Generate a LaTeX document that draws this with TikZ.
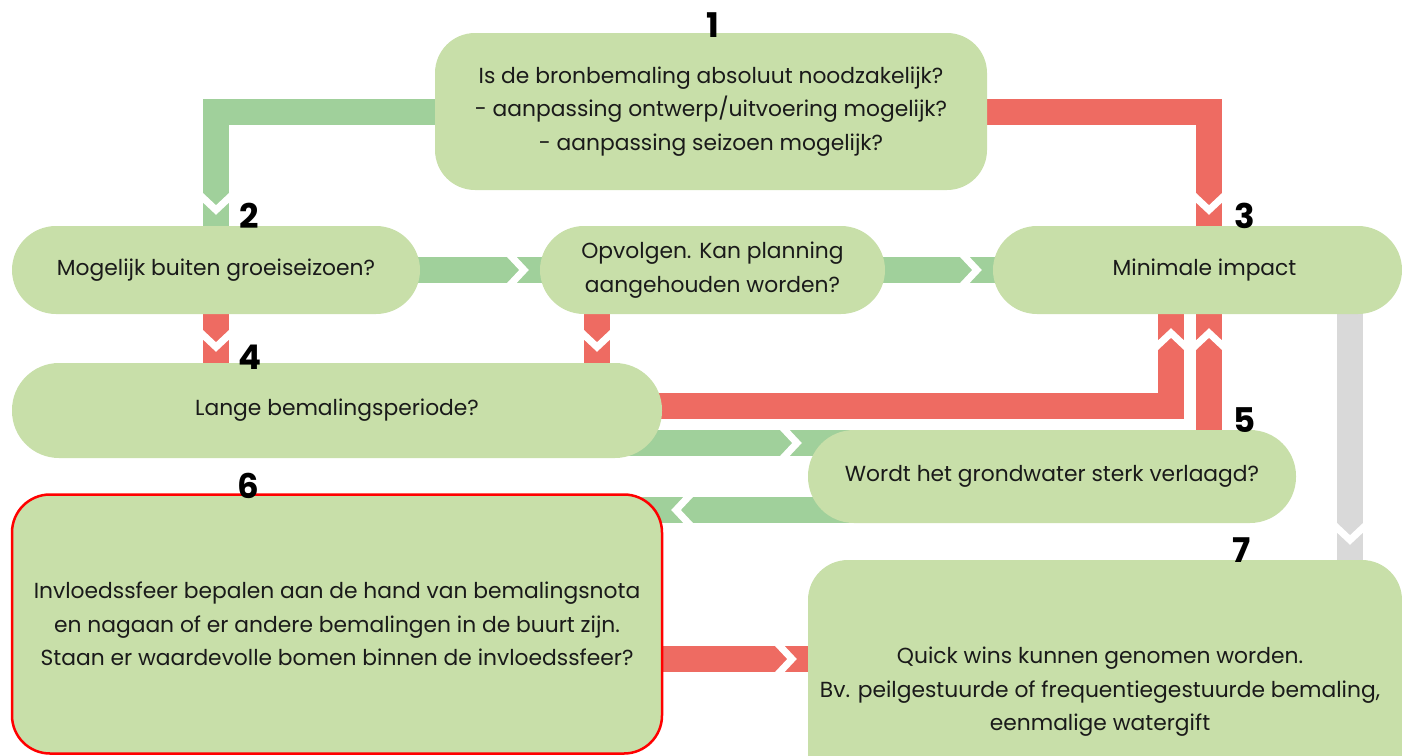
\documentclass[tikz,border=0pt]{standalone}
\usepackage{fontspec}
\setmainfont{Poppins}
\usetikzlibrary{backgrounds}
\definecolor{boxg}{HTML}{C8DFA9}
\definecolor{arrg}{HTML}{A0D09B}
\definecolor{arrr}{HTML}{EE6B62}
\definecolor{arrgray}{HTML}{D9D9D9}
\definecolor{txt}{HTML}{1A1A1A}
\begin{document}
\begin{tikzpicture}[x=1pt,y=-1pt,
  box/.style={fill=boxg, rounded corners=#1, inner sep=0pt, align=center, text=txt,
    font=\fontsize{21.8}{33.5}\selectfont},
  num/.style={font=\fontsize{34}{34}\selectfont\bfseries, text=black, inner sep=0pt},
  gband/.style={draw=arrg, line width=26pt},
  rband/.style={draw=arrr, line width=26pt},
  yband/.style={draw=arrgray, line width=26pt},
  chev/.pic={\draw[white, line width=7pt] (-15,-16) -- (0,0) -- (-15,16);}
]
\useasboundingbox (0,0) rectangle (1402,755);
\clip (0,0) rectangle (1402,755);

% boxes
\node[box=40, minimum width=552pt, minimum height=157pt] (b1) at (711,111.5)
  {Is de bronbemaling absoluut noodzakelijk?\\- aanpassing ontwerp/uitvoering mogelijk?\\- aanpassing seizoen mogelijk?};
\node[box=44, minimum width=408pt, minimum height=88pt] (b2) at (216,270) {Mogelijk buiten groeiseizoen?};
\node[box=44, minimum width=345pt, minimum height=88pt] (bo) at (712.5,270) {Opvolgen. Kan planning\\aangehouden worden?};
\node[box=44, minimum width=409pt, minimum height=88pt] (b3) at (1197.5,270) {\hspace*{14pt}Minimale impact};
\node[box=47, minimum width=650pt, minimum height=95pt] (b4) at (337,410.5) {Lange bemalingsperiode?};
\node[box=46, minimum width=488pt, minimum height=93pt] (b5) at (1052,476.5) {Wordt het grondwater sterk verlaagd?};
\node[box=38, minimum width=650pt, minimum height=259pt, draw=red, line width=2.5pt] (b6) at (337,624)
  {Invloedssfeer bepalen aan de hand van bemalingsnota\\en nagaan of er andere bemalingen in de buurt zijn.\\Staan er waardevolle bomen binnen de invloedssfeer?};
\node[box=40, minimum width=594pt, minimum height=264pt] (b7) at (1105,692)
  {\hspace*{-10pt}Quick wins kunnen genomen worden.\\\hspace*{-10pt}Bv. peilgestuurde of frequentiegestuurde bemaling,\\\hspace*{-10pt}eenmalige watergift};

% numbers
\node[num] (n1) at (713,25) {1};
\node[num] (n2) at (249,216) {2};
\node[num] (n3) at (1245,216) {3};
\node[num] (n4) at (250,357) {4};
\node[num] (n5) at (1245,420) {5};
\node[num] (n6) at (248,486) {6};
\node[num] (n7) at (1242,550) {7};

% helper coordinates for band rows / columns
\coordinate (x13) at (1209,0);
\coordinate (x43) at (1171,0);
\coordinate (xo4) at (597,0);
\coordinate (x37) at (1350,0);
\coordinate (y43) at (0,405.5);
\coordinate (y45) at (0,443);
\coordinate (y56) at (0,510);
\coordinate (y67) at (0,659);

\begin{scope}[on background layer]
  \draw[gband] (b1.center) -| (b2.center);
  \draw[rband] (b1.center) -| (x13 |- b3.center);
  \draw[gband] (b2.center) -- (bo.center);
  \draw[gband] (bo.center) -- (b3.center);
  \draw[rband] (b2.center) -- (b2.center |- b4.center);
  \draw[rband] (xo4 |- bo.center) -- (xo4 |- b4.center);
  \draw[rband] (b4.center |- y43) -| (x43 |- b3.center);
  \draw[rband] (x13 |- b5.center) -- (x13 |- b3.center);
  \draw[gband] (b4.center |- y45) -- (b5.center |- y45);
  \draw[gband] (b5.center |- y56) -- (b6.center |- y56);
  \draw[rband] (b6.center |- y67) -- (b7.center |- y67);
  \draw[yband] (x37 |- b3.center) -- (x37 |- b7.center);
  % chevrons
  \pic[rotate=-90] at (216,210) {chev};
  \pic[rotate=-90] at (1209,210) {chev};
  \pic at (524,270) {chev};
  \pic at (977,270) {chev};
  \pic[rotate=-90] at (216,347) {chev};
  \pic[rotate=-90] at (597,347) {chev};
  \pic[rotate=90] at (1171,333) {chev};
  \pic[rotate=90] at (1209,333) {chev};
  \pic at (797,443) {chev};
  \pic[rotate=180] at (676,510) {chev};
  \pic at (792,659) {chev};
  \pic[rotate=-90] at (1350,540) {chev};
\end{scope}
\end{tikzpicture}
\end{document}
